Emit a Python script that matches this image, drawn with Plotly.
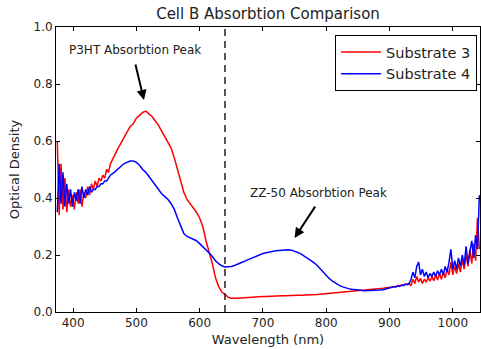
import plotly.graph_objects as go

# ---- data ----
wl_a = [375, 378, 381, 384, 387, 390, 393, 396, 399, 402, 405, 408, 411, 414, 417,
        420, 423, 426, 429, 432, 435, 438, 441, 444, 447, 450, 453, 456, 459]
sub3_a = [0.60, 0.34, 0.52, 0.36, 0.47, 0.35, 0.43, 0.37, 0.41, 0.36, 0.42, 0.38, 0.43, 0.37, 0.42,
          0.40, 0.44, 0.41, 0.45, 0.43, 0.46, 0.44, 0.47, 0.46, 0.48, 0.47, 0.50, 0.49, 0.52]
sub4_a = [0.35, 0.52, 0.38, 0.49, 0.37, 0.45, 0.38, 0.43, 0.37, 0.42, 0.39, 0.43, 0.38, 0.44, 0.40,
          0.43, 0.41, 0.44, 0.42, 0.43, 0.43, 0.44, 0.44, 0.45, 0.45, 0.46, 0.46, 0.47, 0.48]

wl_b = [465, 470, 475, 480, 485, 490, 495, 500, 505, 510, 515, 520, 525, 530, 535,
        540, 545, 550, 555, 560, 565, 570, 575, 580, 585, 590, 595, 600, 605, 610,
        615, 620, 625, 630, 635, 640, 645, 650, 655, 660, 665, 670, 675, 680, 685,
        690, 695, 700, 705, 710, 715, 720, 725, 730, 735, 740, 745, 750, 755, 760,
        765, 770, 775, 780, 785, 790, 795, 800, 805, 810, 815, 820, 825, 830, 835,
        840, 845, 850, 855, 860, 865, 870, 875, 880, 885, 890, 895]
sub3_b = [0.55, 0.57, 0.59, 0.61, 0.63, 0.65, 0.66, 0.68, 0.69, 0.70, 0.705, 0.695, 0.685, 0.67, 0.655,
          0.635, 0.615, 0.60, 0.575, 0.54, 0.50, 0.46, 0.42, 0.395, 0.38, 0.365, 0.35, 0.33, 0.30, 0.25,
          0.21, 0.17, 0.12, 0.09, 0.07, 0.06, 0.052, 0.048, 0.047, 0.048, 0.049, 0.050, 0.051, 0.052, 0.052,
          0.053, 0.053, 0.054, 0.054, 0.055, 0.055, 0.056, 0.056, 0.057, 0.057, 0.058, 0.058, 0.058, 0.059, 0.059,
          0.059, 0.060, 0.060, 0.060, 0.061, 0.062, 0.063, 0.063, 0.064, 0.065, 0.066, 0.067, 0.068, 0.069, 0.070,
          0.071, 0.072, 0.073, 0.074, 0.075, 0.076, 0.077, 0.079, 0.080, 0.081, 0.083, 0.085]
sub4_b = [0.49, 0.50, 0.51, 0.52, 0.525, 0.53, 0.53, 0.525, 0.515, 0.50, 0.49, 0.475, 0.46, 0.445, 0.43,
          0.415, 0.405, 0.395, 0.38, 0.36, 0.33, 0.30, 0.275, 0.265, 0.26, 0.255, 0.25, 0.24, 0.23, 0.22,
          0.207, 0.195, 0.18, 0.17, 0.162, 0.158, 0.158, 0.16, 0.163, 0.167, 0.172, 0.177, 0.182, 0.187, 0.192,
          0.197, 0.202, 0.205, 0.208, 0.211, 0.213, 0.215, 0.216, 0.217, 0.218, 0.218, 0.217, 0.214, 0.209, 0.204,
          0.197, 0.19, 0.182, 0.174, 0.165, 0.153, 0.14, 0.128, 0.117, 0.108, 0.10, 0.094, 0.089, 0.085, 0.082,
          0.08, 0.078, 0.077, 0.076, 0.075, 0.075, 0.075, 0.075, 0.076, 0.077, 0.078, 0.08, 0.083]

wl_c = [898, 901, 904, 907, 910, 913, 916, 919, 922, 925, 928, 931, 934, 937, 940,
        943, 946, 949, 952, 955, 958, 961, 964, 967, 970, 973, 976, 979, 982, 985,
        988, 991, 994, 997, 1000, 1003, 1006, 1009, 1012, 1015, 1018, 1021, 1024, 1027, 1030,
        1033, 1036, 1039, 1042]
sub3_c = [0.086, 0.087, 0.088, 0.090, 0.089, 0.093, 0.092, 0.095, 0.094, 0.098, 0.097, 0.10, 0.092, 0.115, 0.10,
          0.125, 0.105, 0.118, 0.10, 0.115, 0.105, 0.12, 0.108, 0.125, 0.11, 0.13, 0.112, 0.135, 0.115, 0.14,
          0.12, 0.15, 0.13, 0.175, 0.13, 0.16, 0.135, 0.17, 0.14, 0.185, 0.15, 0.20, 0.16, 0.22, 0.17,
          0.24, 0.18, 0.33, 0.22]
sub4_c = [0.085, 0.087, 0.089, 0.088, 0.091, 0.09, 0.094, 0.093, 0.097, 0.096, 0.10, 0.115, 0.14, 0.12, 0.16,
          0.175, 0.13, 0.15, 0.125, 0.14, 0.12, 0.135, 0.125, 0.14, 0.125, 0.145, 0.13, 0.15, 0.13, 0.16,
          0.14, 0.175, 0.22, 0.15, 0.18, 0.15, 0.19, 0.16, 0.20, 0.165, 0.23, 0.17, 0.21, 0.25, 0.19,
          0.27, 0.22, 0.41, 0.30]

wavelength = wl_a + wl_b + wl_c
substrate3 = sub3_a + sub3_b + sub3_c
substrate4 = sub4_a + sub4_b + sub4_c

x_ticks = [400, 500, 600, 700, 800, 900, 1000]
y_ticks = [0.0, 0.2, 0.4, 0.6, 0.8, 1.0]
cutoff_nm = 640

FONT = "DejaVu Sans"
TXT = "#222222"

fig = go.Figure()
fig.add_trace(go.Scatter(x=wavelength, y=substrate3, mode="lines", name="Substrate 3",
                         line=dict(color="#ff0000", width=1.5)))
fig.add_trace(go.Scatter(x=wavelength, y=substrate4, mode="lines", name="Substrate 4",
                         line=dict(color="#0000ff", width=1.5)))

fig.add_shape(type="line", xref="x", yref="y", x0=cutoff_nm, x1=cutoff_nm, y0=0, y1=1,
              line=dict(color="#222222", width=1.5, dash="7px,5px"))

fig.add_annotation(x=498, y=0.918, text="P3HT Absorbtion Peak", showarrow=False,
                   font=dict(family=FONT, size=12, color=TXT))
fig.add_annotation(x=512, y=0.744, ax=498, ay=0.874, axref="x", ayref="y", text="",
                   showarrow=True, arrowhead=2, arrowsize=1, arrowwidth=2, arrowcolor="black")
fig.add_annotation(x=788, y=0.418, text="ZZ-50 Absorbtion Peak", showarrow=False,
                   font=dict(family=FONT, size=12, color=TXT))
fig.add_annotation(x=750, y=0.26, ax=784, ay=0.375, axref="x", ayref="y", text="",
                   showarrow=True, arrowhead=2, arrowsize=1, arrowwidth=2, arrowcolor="black")

axis_common = dict(showline=True, linecolor="black", linewidth=1, mirror="ticks",
                   ticks="inside", ticklen=4, tickcolor="black", showgrid=False, zeroline=False,
                   tickfont=dict(family=FONT, size=12, color=TXT))

fig.update_layout(
    width=481, height=349,
    margin=dict(l=56, r=1, t=27, b=37),
    paper_bgcolor="white", plot_bgcolor="white",
    title=dict(text="Cell B Absorbtion Comparison", xref="paper", x=0.5, xanchor="center",
               y=1 - 14 / 349, yanchor="middle",
               font=dict(family=FONT, size=15, color=TXT)),
    xaxis=dict(range=[373, 1043], tickvals=x_ticks,
               title=dict(text="Wavelength (nm)", standoff=5,
                          font=dict(family=FONT, size=13, color=TXT)),
               **axis_common),
    yaxis=dict(range=[0, 1], tickvals=y_ticks, tickformat=".1f",
               title=dict(text="Optical Density", standoff=10,
                          font=dict(family=FONT, size=13, color=TXT)),
               **axis_common),
    legend=dict(x=0.993, y=0.972, xanchor="right", yanchor="top",
                bgcolor="white", bordercolor="black", borderwidth=1,
                font=dict(family=FONT, size=14.5, color=TXT), itemwidth=40),
    showlegend=True,
)

fig.write_html("out.html")
